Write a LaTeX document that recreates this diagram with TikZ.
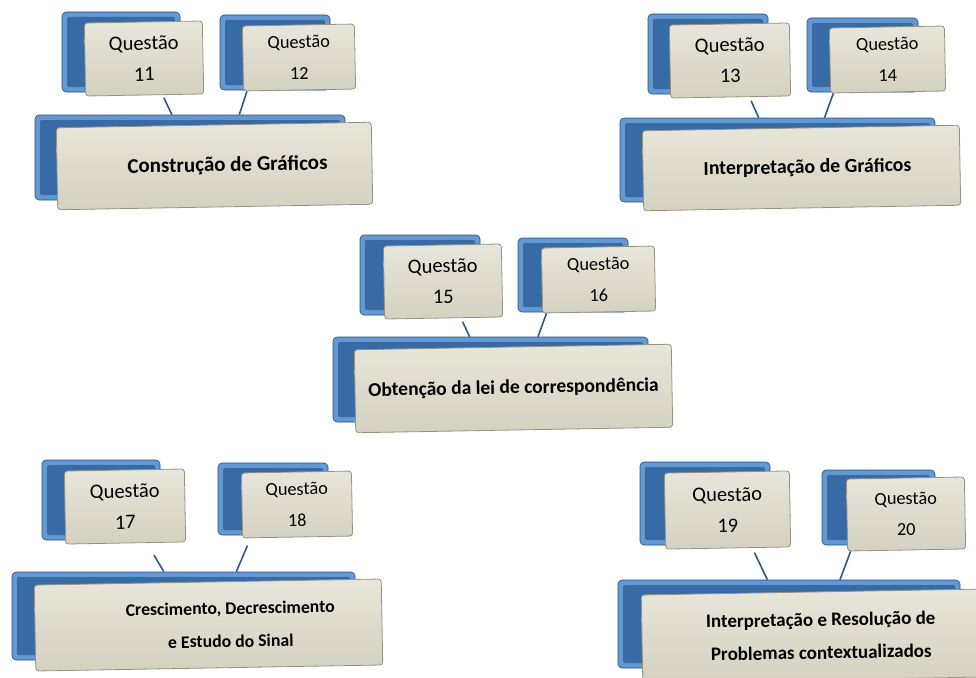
\documentclass[tikz,border=0pt]{standalone}
\usepackage{fontspec}
\setmainfont{Carlito}
\usepackage{tikz}
\usetikzlibrary{positioning}

\definecolor{bluerim}{RGB}{100,152,208}
\definecolor{bluedeep}{RGB}{56,106,166}
\definecolor{blueedge}{RGB}{40,80,130}
\definecolor{beigetop}{RGB}{232,230,218}
\definecolor{beigebot}{RGB}{212,209,193}
\definecolor{beigeedge}{RGB}{150,146,130}
\definecolor{linkblue}{RGB}{45,90,135}

\tikzset{
	sz/.style 2 args={minimum width=#1pt, minimum height=#2pt, inner sep=0pt},
	back/.style={rectangle, rounded corners=4pt, draw=blueedge, fill=bluerim, line width=0.6pt,
		path picture={\fill[bluedeep, rounded corners=2pt]
			([shift={(5pt,-5pt)}]path picture bounding box.north west) rectangle
			([shift={(-5pt,5pt)}]path picture bounding box.south east);}},
	quest/.style={rectangle, rounded corners=3pt, draw=beigeedge, top color=beigetop, bottom color=beigebot,
		line width=0.8pt, align=center, rotate=1, font=\fontsize{18.3}{31}\selectfont},
	questbig/.style={quest, font=\fontsize{20.5}{31}\selectfont},
	topic/.style={quest, font=\fontsize{#1}{33}\selectfont\bfseries},
	link/.style={draw=linkblue, line width=1.6pt}
}

\begin{document}
\begin{tikzpicture}[x=1pt, y=-1pt]
		\useasboundingbox (0, 0) rectangle (976, 677);
		
		% Construcao de graficos
		\node[back, sz={118}{80}] (q11b) at (121, 52) {};
		\node[back, sz={110}{75}] (q12b) at (275, 52.5) {};
		\node[back, sz={310}{85}] (g1b) at (190, 157.5) {};
		\node[questbig, sz={118}{73}] (q11) at (144, 58.5) {Questão\\11};
		\node[quest, sz={112}{65}] (q12) at (299, 57.5) {Questão\\12};
		\node[topic=21, sz={315}{82}] (g1) at (214.5, 166) {\hspace*{26pt}Construção de Gráficos};
		\draw [link, shorten <=3pt] (q11.-64.5) to (g1b.113);
		\draw [link] (q12.212) to (g1b.41.5);
		
		% Interpretacao de graficos
		\node[back, sz={120}{80}] (q13b) at (708, 54) {};
		\node[back, sz={111}{74}] (q14b) at (862.5, 55) {};
		\node[back, sz={315}{84}] (g2b) at (777.5, 160) {};
		\node[questbig, sz={120}{73}] (q13) at (730, 60.5) {Questão\\13};
		\node[quest, sz={115}{65}] (q14) at (887.5, 59.5) {Questão\\14};
		\node[topic=19.8, sz={317}{80}] (g2) at (801.5, 168) {\hspace*{12pt}Interpretação de Gráficos};
		\draw [link, shorten <=4pt] (q13.-63.7) to (g2b.114.3);
		\draw [link] (q14.211.4) to (g2b.42.7);
		
		% Obtencao da lei
		\node[back, sz={120}{80}] (q15b) at (420, 275) {};
		\node[back, sz={110}{74}] (q16b) at (573, 275) {};
		\node[back, sz={315}{85}] (g3b) at (490.5, 379.5) {};
		\node[questbig, sz={118}{73}] (q15) at (443, 281.5) {Questão\\15};
		\node[quest, sz={113}{65}] (q16) at (598.5, 279.5) {Questão\\16};
		\node[topic=19.5, sz={317}{83}] (g3) at (513.5, 388.5) {Obtenção da lei de correspondência};
		\draw [link, shorten <=4pt] (q15.-65.3) to (g3b.116.3);
		\draw [link] (q16.212.3) to (g3b.42.4);
		
		% Crescimento
		\node[back, sz={118}{80}] (q17b) at (101, 500) {};
		\node[back, sz={110}{72}] (q18b) at (273, 499) {};
		\node[back, sz={343}{88}] (g4b) at (183.5, 616) {};
		\node[questbig, sz={120}{73}] (q17) at (125, 506.5) {Questão\\17};
		\node[quest, sz={110}{65}] (q18) at (297, 504.5) {Questão\\18};
		\node[topic=17.7, sz={347}{86}] (g4) at (208.5, 625)
			{\hspace*{44pt}Crescimento, Decrescimento\\\hspace*{44pt}e Estudo do Sinal};
		\draw [link, shorten <=14pt] (q17.-60.1) to (g4b.114.4);
		\draw [link, shorten <=8pt] (q18.215.7) to (g4b.40.5);
		
		% Resolucao de problemas
		\node[back, sz={130}{83}] (q19b) at (705, 503.5) {};
		\node[back, sz={113}{75}] (q20b) at (878.5, 507.5) {};
		\node[back, sz={342}{88}] (g5b) at (789, 624) {};
		\node[questbig, sz={125}{76}] (q19) at (727.5, 510) {Questão\\19};
		\node[quest, sz={118}{72}] (q20) at (906, 514) {Questão\\20};
		\node[topic=19, sz={340}{88}] (g5) at (812, 636)
			{\hspace*{18pt}Interpretação e Resolução de\\\hspace*{18pt}Problemas contextualizados};
		\draw [link, shorten <=5pt] (q19.-58.9) to (g5b.116.6);
		\draw [link] (q20.213.7) to (g5b.41.3);
\end{tikzpicture}
\end{document}
